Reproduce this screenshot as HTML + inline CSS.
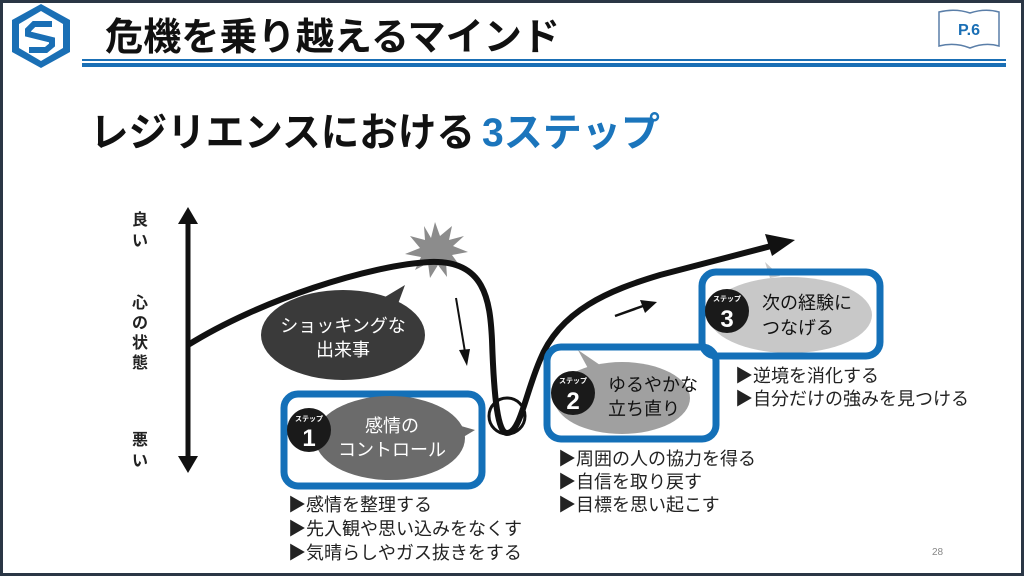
<!DOCTYPE html>
<html><head><meta charset="utf-8"><style>
html,body{margin:0;padding:0;background:#fff}
body{width:1024px;height:576px;overflow:hidden;font-family:"Liberation Sans","Noto Sans CJK JP",sans-serif}
svg text{font-family:"Liberation Sans","Noto Sans CJK JP",sans-serif}
</style></head><body>
<svg width="1024" height="576" viewBox="0 0 1024 576" xmlns="http://www.w3.org/2000/svg">
<rect x="1.5" y="1.5" width="1021" height="573" fill="#fff" stroke="#2a3645" stroke-width="3"/>
<!-- logo -->
<polygon points="41,4 70,20 70,52 41,68 12,52 12,20" fill="#1a6fb5"/>
<polygon points="41,11 63,24 63,48 41,61 19,48 19,24" fill="#fff"/>
<path d="M52,24 L34,24 L28,30 L28,34 L52,40 L52,45 L46,50 L29,50" fill="none" stroke="#1a6fb5" stroke-width="6"/>
<text x="105" y="50" font-size="38" font-weight="bold" fill="#111" textLength="455" lengthAdjust="spacingAndGlyphs">危機を乗り越えるマインド</text>
<rect x="82" y="59" width="924" height="2" fill="#1a6fb5"/>
<rect x="82" y="63" width="924" height="4" fill="#1a6fb5"/>
<!-- book -->
<path d="M939,12 Q955,8 970,13 Q985,8 999,12 L999,46 Q985,42 970,48 Q955,42 939,46 Z" fill="#fff" stroke="#5a7ea8" stroke-width="1.5"/>
<text x="969" y="35" font-size="16" font-weight="bold" fill="#1a6fb5" text-anchor="middle">P.6</text>
<text x="90" y="146" font-size="40" font-weight="bold" fill="#111" textLength="385" lengthAdjust="spacingAndGlyphs">レジリエンスにおける</text>
<text x="482" y="146" font-size="40" font-weight="bold" fill="#1b75bc" textLength="178" lengthAdjust="spacingAndGlyphs">3ステップ</text>
<!-- axis -->
<line x1="188" y1="222" x2="188" y2="458" stroke="#111" stroke-width="5"/>
<polygon points="178,224 188,207 198,224" fill="#111"/>
<polygon points="178,456 188,473 198,456" fill="#111"/>
<g font-size="16" font-weight="bold" fill="#222" text-anchor="middle">
<text x="140" y="225">良</text><text x="140" y="246">い</text>
<text x="140" y="308">心</text><text x="140" y="328">の</text><text x="140" y="348">状</text><text x="140" y="368">態</text>
<text x="140" y="445">悪</text><text x="140" y="466">い</text>
</g>
<!-- starburst -->
<polygon points="435,222 440,236 452,226 449,240 464,236 453,246 468,252 452,255 460,266 446,262 447,277 438,265 430,278 428,263 415,270 421,257 405,254 420,248 410,236 425,240 424,226 431,238" fill="#8c8c8c"/>
<!-- curve -->
<path d="M188,345 C260,300 370,265 430,262 C485,260 490,300 492,340 C494,400 498,433 507,433 C520,433 525,395 540,360 C560,310 610,290 660,275 L775,245" fill="none" stroke="#111" stroke-width="6"/>
<polygon points="765,234 795,240 772,256" fill="#111"/>
<circle cx="507" cy="416" r="18" fill="none" stroke="#111" stroke-width="3"/>
<!-- shocking bubble -->
<polygon points="380,300 405,285 395,312" fill="#3a3a3a"/>
<ellipse cx="343" cy="335" rx="82" ry="45" fill="#3a3a3a"/>
<text x="343" y="332" font-size="18" fill="#fff" text-anchor="middle">ショッキングな</text>
<text x="343" y="356" font-size="18" fill="#fff" text-anchor="middle">出来事</text>
<line x1="456" y1="298" x2="465" y2="352" stroke="#111" stroke-width="2"/>
<polygon points="459,350 467,366 470,349" fill="#111"/>
<line x1="615" y1="316" x2="643" y2="306" stroke="#111" stroke-width="2.5"/>
<polygon points="640,300 657,302 645,313" fill="#111"/>
<!-- step 1 -->
<rect x="284" y="394" width="198" height="92" rx="14" fill="#fff" stroke="#1470b8" stroke-width="7"/>
<polygon points="440,420 475,430 445,448" fill="#6b6b6b"/>
<ellipse cx="390" cy="438" rx="75" ry="42" fill="#6b6b6b"/>
<text x="392" y="432" font-size="18" fill="#fff" text-anchor="middle">感情の</text>
<text x="392" y="456" font-size="18" fill="#fff" text-anchor="middle">コントロール</text>
<circle cx="309" cy="430" r="22" fill="#1a1a1a"/>
<text x="309" y="421" font-size="7" font-weight="bold" fill="#fff" text-anchor="middle">ステップ</text>
<text x="309" y="446" font-size="24" font-weight="bold" fill="#fff" text-anchor="middle">1</text>
<!-- step 2 -->
<polygon points="578,350 600,365 590,372" fill="#a0a0a0"/>
<ellipse cx="622" cy="398" rx="68" ry="36" fill="#a0a0a0"/>
<rect x="547" y="347" width="169" height="92" rx="14" fill="none" stroke="#1470b8" stroke-width="7"/>
<circle cx="573" cy="393" r="22" fill="#1a1a1a"/>
<text x="573" y="383" font-size="7" font-weight="bold" fill="#fff" text-anchor="middle">ステップ</text>
<text x="573" y="409" font-size="24" font-weight="bold" fill="#fff" text-anchor="middle">2</text>
<text x="608" y="391" font-size="18" fill="#111">ゆるやかな</text>
<text x="608" y="415" font-size="18" fill="#111">立ち直り</text>
<!-- step 3 -->
<polygon points="765,262 770,278 780,276" fill="#c8c8c8"/>
<ellipse cx="790" cy="315" rx="82" ry="38" fill="#c8c8c8"/>
<rect x="702" y="272" width="178" height="84" rx="14" fill="none" stroke="#1470b8" stroke-width="7"/>
<circle cx="727" cy="311" r="22" fill="#1a1a1a"/>
<text x="727" y="301" font-size="7" font-weight="bold" fill="#fff" text-anchor="middle">ステップ</text>
<text x="727" y="327" font-size="24" font-weight="bold" fill="#fff" text-anchor="middle">3</text>
<text x="762" y="309" font-size="18" fill="#111">次の経験に</text>
<text x="762" y="334" font-size="18" fill="#111">つなげる</text>
<!-- bullets -->
<g font-size="18" fill="#222">
<text x="288" y="511">▶感情を整理する</text>
<text x="288" y="535">▶先入観や思い込みをなくす</text>
<text x="288" y="559">▶気晴らしやガス抜きをする</text>
<text x="558" y="465">▶周囲の人の協力を得る</text>
<text x="558" y="488">▶自信を取り戻す</text>
<text x="558" y="511">▶目標を思い起こす</text>
<text x="735" y="382">▶逆境を消化する</text>
<text x="735" y="405">▶自分だけの強みを見つける</text>
</g>
<text x="932" y="555" font-size="10" fill="#888">28</text>
</svg>
</body></html>
